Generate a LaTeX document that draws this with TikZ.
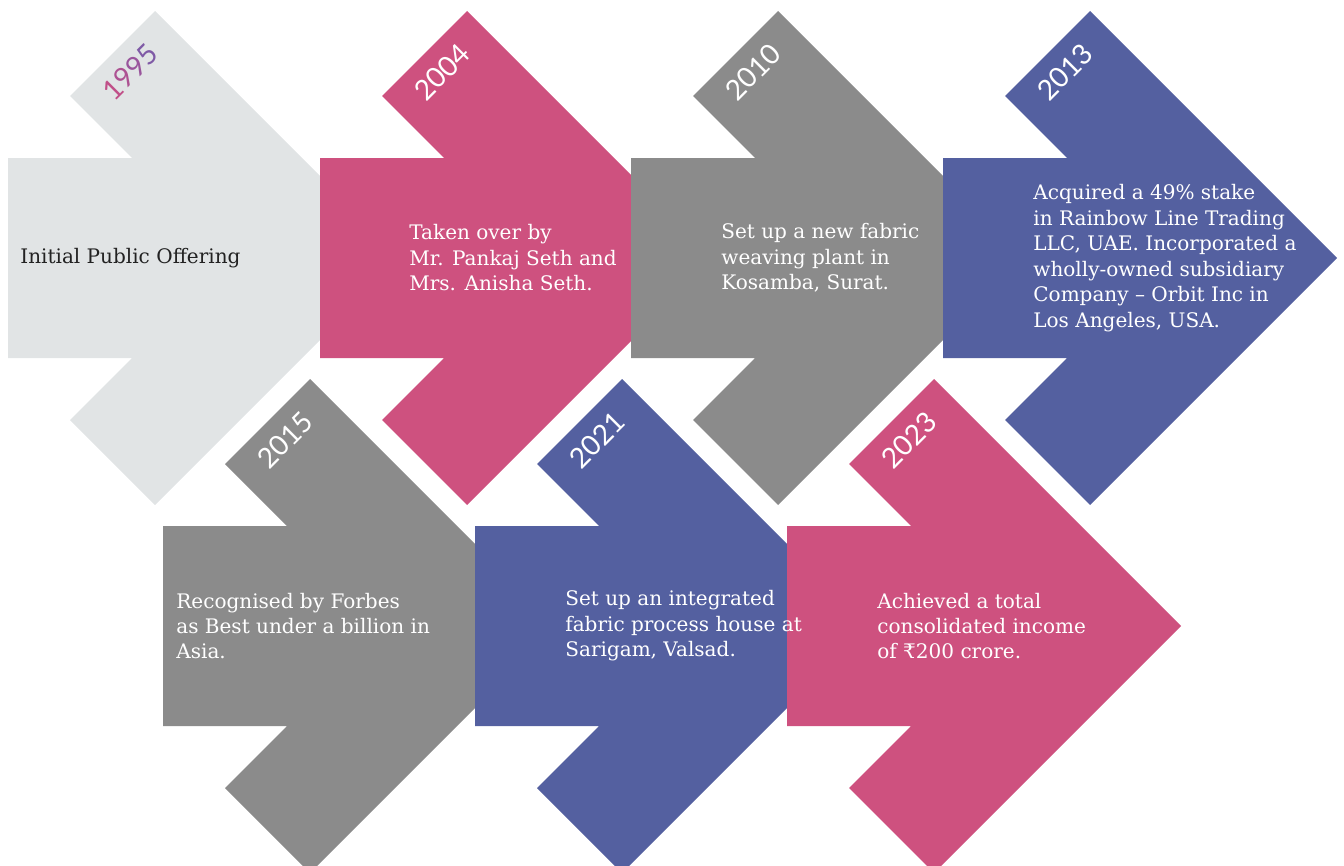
\documentclass[tikz,border=0pt]{standalone}
\usepackage{fontspec}
\setmainfont{DejaVu Serif}
\newfontfamily\yrfont{Lato}
\definecolor{LG}{HTML}{E1E4E5}
\definecolor{PK}{HTML}{CE517F}
\definecolor{GR}{HTML}{8B8B8B}
\definecolor{BL}{HTML}{5460A0}
\definecolor{DK}{HTML}{222222}
\definecolor{Y1}{HTML}{C04F88}
\definecolor{Y2}{HTML}{AD5292}
\definecolor{Y3}{HTML}{99559C}
\definecolor{Y4}{HTML}{7F5AA6}
\tikzset{
    chev/.pic={\fill[#1] (0,0) -- (124,0) -- (62,-62) -- (147,-147) -- (394,100) -- (147,347) -- (62,262) -- (124,200) -- (0,200) -- cycle;},
    YR/.style ={rotate=45, text=white, inner sep=0pt, font=\yrfont\fontsize{16}{16}\selectfont},
    TX/.style ={anchor=west, align=left, text=white, inner sep=0pt, font=\fontsize{11.4}{14.5}\selectfont}}

\begin{document}
\begin{tikzpicture}[x=0.02cm,y=-0.02cm]
        \useasboundingbox (0,0) rectangle (1344,865);
        \clip (0,0) rectangle (1344,865);
        % top row
        \pic at (8,158) {chev=LG};
        \pic at (320,158) {chev=PK};
        \pic at (631,158) {chev=GR};
        \pic at (943,158) {chev=BL};
        % bottom row
        \pic at (163,526) {chev=GR};
        \pic at (475,526) {chev=BL};
        \pic at (787,526) {chev=PK};
        % years
        \node[YR] (y1) at (130,72) {\textcolor{Y1}{1}\textcolor{Y2}{9}\textcolor{Y3}{9}\textcolor{Y4}{5}};
        \node[YR] (y2) at (442,72) {2004};
        \node[YR] (y3) at (753,72) {2010};
        \node[YR] (y4) at (1065,72) {2013};
        \node[YR] (y5) at (285,440) {2015};
        \node[YR] (y6) at (597,440) {2021};
        \node[YR] (y7) at (909,440) {2023};
        % texts
        \node[TX, text=DK] (t1) at (20,258) {Initial Public Offering};
        \node[TX] (t2) at (409,258) {Taken over by\\Mr. Pankaj Seth and\\Mrs. Anisha Seth.};
        \node[TX] (t3) at (721,258) {Set up a new fabric\\weaving plant in\\Kosamba, Surat.};
        \node[TX] (t4) at (1033,258) {Acquired a 49\% stake\\in Rainbow Line Trading\\LLC, UAE. Incorporated a\\wholly-owned subsidiary\\Company – Orbit Inc in\\Los Angeles, USA.};
        \node[TX] (t5) at (176,626) {Recognised by Forbes\\as Best under a billion in\\Asia.};
        \node[TX] (t6) at (565,626) {Set up an integrated\\fabric process house at\\Sarigam, Valsad.};
        \node[TX] (t7) at (877,626) {Achieved a total\\consolidated income\\of ₹200 crore.};
    \end{tikzpicture}
\end{document}
